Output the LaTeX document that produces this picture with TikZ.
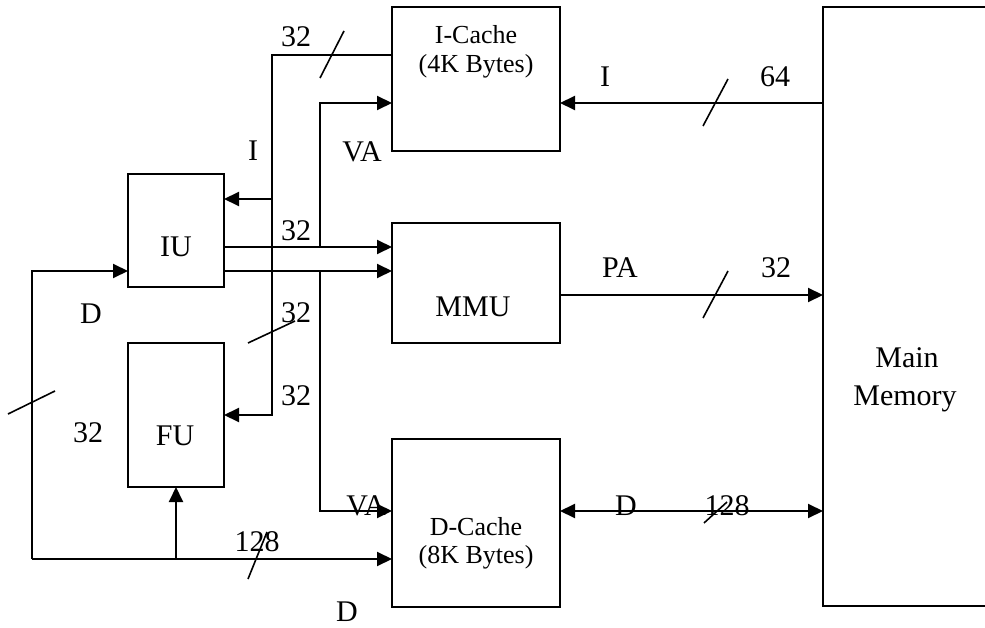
\documentclass[tikz,border=0pt]{standalone}
\usepackage{fontspec}
\setmainfont{Liberation Serif}
\usetikzlibrary{arrows.meta}
\begin{document}
\begin{tikzpicture}[x=1pt,y=-1pt,
  line width=2pt,
  box/.style={draw,anchor=north west,inner sep=0pt,outer sep=0pt},
  lbl/.style={inner sep=0pt,anchor=center,font=\fontsize{30}{35}\selectfont},
  clbl/.style={inner sep=0pt,anchor=center,font=\fontsize{26}{30}\selectfont},
  arr/.style={-{Triangle[length=15pt,width=14pt]}},
  darr/.style={{Triangle[length=15pt,width=14pt]}-{Triangle[length=15pt,width=14pt]}},
  slash/.style={line width=1.6pt}]
\useasboundingbox (0,0) rectangle (985,628);
% boxes
\node[box,minimum width=168pt,minimum height=144pt] (icache) at (392,7) {};
\node[box,minimum width=168pt,minimum height=120pt] (mmu) at (392,223) {};
\node[box,minimum width=168pt,minimum height=168pt] (dcache) at (392,439) {};
\node[box,minimum width=96pt,minimum height=113pt] (iu) at (128,174) {};
\node[box,minimum width=96pt,minimum height=144pt] (fu) at (128,343) {};
\node[box,minimum width=170pt,minimum height=599pt] (mem) at (823,7) {};
% box texts
\node[clbl] (ictxt1) at (476,35) {I-Cache};
\node[clbl] (ictxt2) at (476,66) {(4K Bytes)};
\node[clbl] (dctxt1) at (476,527) {D-Cache};
\node[clbl] (dctxt2) at (476,557) {(8K Bytes)};
\node[lbl] (iutxt) at (176,247) {IU};
\node[lbl] (futxt) at (175,436) {FU};
\node[lbl] (mmutxt) at (473,307) {MMU};
\node[lbl,anchor=base] (memtxt1) at (907,367) {Main};
\node[lbl,anchor=base] (memtxt2) at (905,405) {Memory};
% junction coordinates
\coordinate (ja) at (272,55);
\coordinate (jb) at (272,199);
\coordinate (jc) at (272,415);
\coordinate (jd) at (320,247);
\coordinate (je) at (320,103);
\coordinate (jf) at (320,271);
\coordinate (jg) at (320,511);
\coordinate (jh) at (32,271);
\coordinate (ji) at (32,559);
\coordinate (jk) at (176,559);
\coordinate (jp) at (600,295);
% connectors
\draw[arr] (icache.west |- ja) -- (ja) -- (jc) -- (fu.east |- jc);
\draw[arr] (jb) -- (iu.east |- jb);
\draw[arr] (iu.east |- jd) -- (mmu.west |- jd);
\draw[arr] (jd) -- (je) -- (icache.west |- je);
\draw[arr] (iu.east |- jf) -- (mmu.west |- jf);
\draw[arr] (jf) -- (jg) -- (dcache.west |- jg);
\draw[arr] (mem.west |- je) -- (icache.east |- je);
\draw[arr] (mmu.east |- jp) -- (mem.west |- jp);
\draw[darr] (dcache.east |- jg) -- (mem.west |- jg);
\draw[arr] (ji) -- (jh) -- (iu.west |- jh);
\draw[arr] (ji) -- (dcache.west |- ji);
\draw[arr] (jk) -- (fu.south);
% bus-width slashes
\draw[slash] (320,78) -- (344,31);
\draw[slash] (703,126) -- (728,79);
\draw[slash] (703,318) -- (728,271);
\draw[slash] (248,343) -- (295,321);
\draw[slash] (8,414) -- (55,391);
\draw[slash] (248,579) -- (267,532);
\draw[slash] (704,523) -- (727,502);
% labels
\node[lbl] (l1) at (296,37) {32};
\node[lbl] (l2) at (253,151) {I};
\node[lbl] (l3) at (362,152) {VA};
\node[lbl] (l4) at (605,77) {I};
\node[lbl] (l5) at (775,77) {64};
\node[lbl] (l6) at (296,231) {32};
\node[lbl] (l7) at (91,314) {D};
\node[lbl] (l8) at (296,313) {32};
\node[lbl] (l9) at (296,396) {32};
\node[lbl] (l10) at (88,433) {32};
\node[lbl] (l11) at (366,506) {VA};
\node[lbl] (l12) at (257,542) {128};
\node[lbl] (l13) at (347,612) {D};
\node[lbl] (l14) at (620,268) {PA};
\node[lbl] (l15) at (776,268) {32};
\node[lbl] (l16) at (626,506) {D};
\node[lbl] (l17) at (727,506) {128};
\end{tikzpicture}
\end{document}
